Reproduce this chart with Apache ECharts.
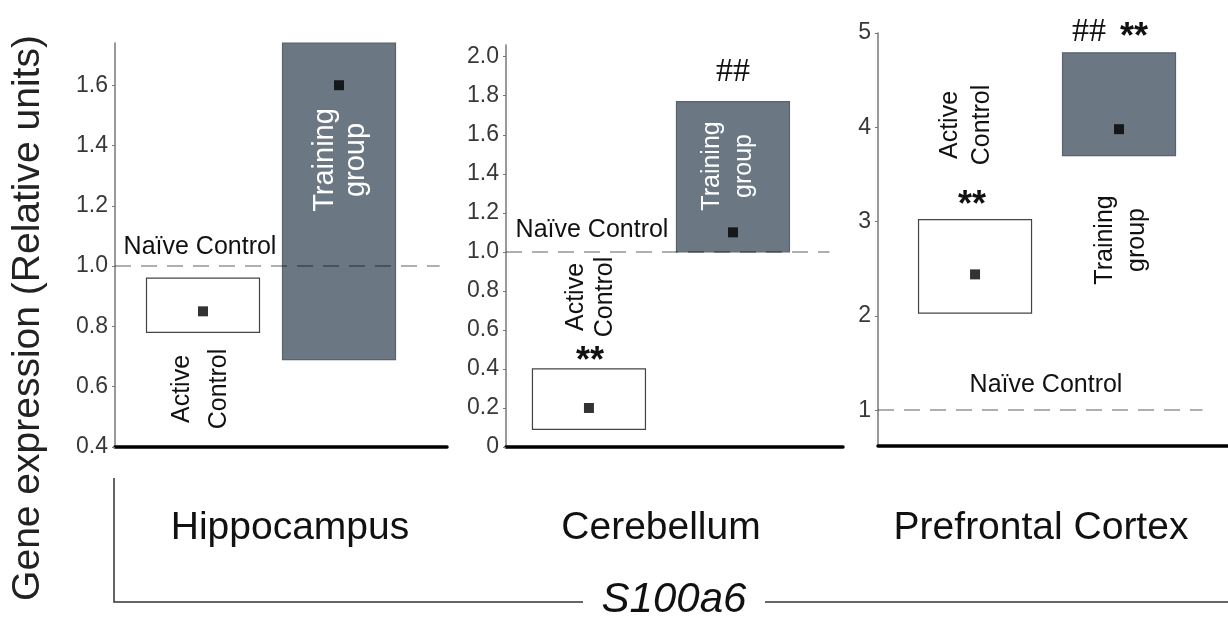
<!DOCTYPE html>
<html>
<head>
<meta charset="utf-8">
<script src="https://cdn.jsdelivr.net/npm/echarts@6/dist/echarts.min.js"></script>
<style>html,body{margin:0;padding:0;background:#fff}#c{width:1228px;height:621px}</style>
</head>
<body>
<div id="c"></div>
<script>
// ---- data ----
const regions = ['Hippocampus', 'Cerebellum', 'Prefrontal Cortex'];
const groups = ['Active Control', 'Training group'];
const activeMean = [0.85, 0.20, 2.44];
const activeLow  = [0.78, 0.09, 2.03];
const activeHigh = [0.96, 0.40, 3.02];
const trainMean  = [1.60, 1.10, 3.98];
const trainLow   = [0.69, 1.00, 3.70];
const trainHigh  = [1.74, 1.77, 4.79];
const naiveLevel = 1.0;
const yTicks = [
  [0.4, 0.6, 0.8, 1.0, 1.2, 1.4, 1.6],
  [0, 0.2, 0.4, 0.6, 0.8, 1.0, 1.2, 1.4, 1.6, 1.8, 2.0],
  [1, 2, 3, 4, 5]
];
const geneName = 'S100a6';
const yTitle = 'Gene expression (Relative units)';
const naiveLabel = 'Naïve Control';
// significance marks [region][group]
const sigMarks = [['', ''], ['**', '##'], ['**', '## **']];

// ---- layout ----
const FONT = "'Liberation Sans', Arial, sans-serif";
const grids = [
  {left: 115, top: 43, width: 332, height: 404},
  {left: 506, top: 45, width: 337, height: 402},
  {left: 878, top: 33, width: 350, height: 413}
];
const xRange = [[-0.647, 1.794], [-0.576, 1.764], [-0.674, 1.757]];
const yRange = [[0.4, 1.74], [0, 2.06], [0.62, 5.0]];
const naiveEnd = [1.74, 1.67, 1.58];
const BOXW = 113;

const chart = echarts.init(document.getElementById('c'), null, {renderer: 'canvas'});

const xAxes = [], yAxes = [], series = [];
regions.forEach((r, i) => {
  xAxes.push({
    type: 'value', gridIndex: i, min: xRange[i][0], max: xRange[i][1],
    axisLine: {show: true, onZero: false, lineStyle: {color: '#000', width: 3.5}},
    axisTick: {show: false}, axisLabel: {show: false}, splitLine: {show: false}
  });
  yAxes.push({
    type: 'value', gridIndex: i, min: yRange[i][0], max: yRange[i][1],
    axisLine: {show: true, onZero: false, lineStyle: {color: '#777', width: 1.5}},
    axisTick: {show: true, length: 3, customValues: yTicks[i], lineStyle: {color: '#777'}},
    axisLabel: {
      customValues: yTicks[i], fontFamily: FONT, fontSize: 23, color: '#383838', margin: 7,
      formatter: v => (i === 2 ? String(v) : (v === 0 ? '0' : v.toFixed(1)))
    },
    splitLine: {show: false}
  });
  const boxData = [
    [0, activeLow[i], activeHigh[i]],
    [1, trainLow[i], trainHigh[i]]
  ];
  series.push({
    type: 'custom', xAxisIndex: i, yAxisIndex: i, z: 2,
    data: boxData,
    renderItem: (params, api) => {
      const g = api.value(0);
      const top = api.coord([g, api.value(2)]);
      const bot = api.coord([g, api.value(1)]);
      return {
        type: 'rect',
        shape: {x: top[0] - BOXW / 2, y: top[1], width: BOXW, height: bot[1] - top[1]},
        style: g === 0 ? {fill: '#fff', stroke: '#444', lineWidth: 1.2}
                       : {fill: '#6b7782', stroke: '#59636d', lineWidth: 1.2}
      };
    }
  });
  series.push({
    type: 'scatter', xAxisIndex: i, yAxisIndex: i, z: 4,
    symbol: 'rect', symbolSize: 10, itemStyle: {color: '#000'},
    data: [[0, activeMean[i]], [1, trainMean[i]]],
    markLine: {
      silent: true, symbol: 'none', z: 3,
      label: {show: false},
      lineStyle: {type: [16, 10], color: 'rgba(0,0,0,0.42)', width: 1.5},
      data: [[{coord: [xRange[i][0], naiveLevel]}, {coord: [naiveEnd[i], naiveLevel]}]]
    }
  });
});

function txt(x, y, text, opt) {
  return Object.assign({
    type: 'text', x: x, y: y, z: 10,
    style: Object.assign({
      text: text, fontFamily: FONT, fontSize: 25, fill: '#111',
      align: 'center', verticalAlign: 'middle'
    }, opt && opt.style || {})
  }, opt && opt.rot ? {rotation: Math.PI / 2} : {});
}
const ac = groups[0].replace(' ', '\n');
const tg = groups[1].replace(' ', '\n');
const graphics = [
  // y title
  txt(28, 318, yTitle, {rot: true, style: {fontSize: 39, fill: '#222'}}),
  // naive labels
  txt(200, 247, naiveLabel), txt(592, 230, naiveLabel), txt(1046, 385, naiveLabel),
  // group labels
  txt(201, 389, ac, {rot: true, style: {lineHeight: 37}}),
  txt(340, 160, tg, {rot: true, style: {fill: '#fff', lineHeight: 31, fontSize: 29}}),
  txt(591, 297, ac, {rot: true, style: {lineHeight: 29}}),
  txt(728, 166, tg, {rot: true, style: {fill: '#fff', lineHeight: 32}}),
  txt(966, 125, ac, {rot: true, style: {lineHeight: 32}}),
  txt(1121, 240, tg, {rot: true, style: {lineHeight: 32}}),
  // significance
  txt(590, 362, sigMarks[1][0], {style: {fontSize: 36, fontWeight: 'bold'}}),
  txt(733, 72, sigMarks[1][1], {style: {fontSize: 34, fontFamily: "'Liberation Serif', serif"}}),
  txt(972, 206, sigMarks[2][0], {style: {fontSize: 36, fontWeight: 'bold'}}),
  {type: 'text', x: 1072, y: 32, z: 10, style: {text: '##', fontFamily: "'Liberation Serif', serif", fontSize: 34, fill: '#111', align: 'left', verticalAlign: 'middle'}},
  {type: 'text', x: 1120, y: 38, z: 10, style: {text: '**', fontFamily: FONT, fontWeight: 'bold', fontSize: 36, fill: '#111', align: 'left', verticalAlign: 'middle'}},
  // region names
  txt(290, 528, regions[0], {style: {fontSize: 39}}),
  txt(661, 528, regions[1], {style: {fontSize: 39}}),
  txt(1041, 528, regions[2], {style: {fontSize: 39}}),
  // bracket
  {type: 'polyline', z: 5, shape: {points: [[114, 478], [114, 602], [583, 602]]}, style: {stroke: '#333', lineWidth: 1.5, fill: null}},
  {type: 'line', z: 5, shape: {x1: 765, y1: 602, x2: 1228, y2: 602}, style: {stroke: '#333', lineWidth: 1.5}},
  txt(674, 600, geneName, {style: {fontSize: 42, fontStyle: 'italic'}})
];

chart.setOption({
  backgroundColor: '#fff',
  animation: false,
  grid: grids.map(g => Object.assign({containLabel: false}, g)),
  xAxis: xAxes,
  yAxis: yAxes,
  series: series,
  graphic: graphics
});
</script>
</body>
</html>
